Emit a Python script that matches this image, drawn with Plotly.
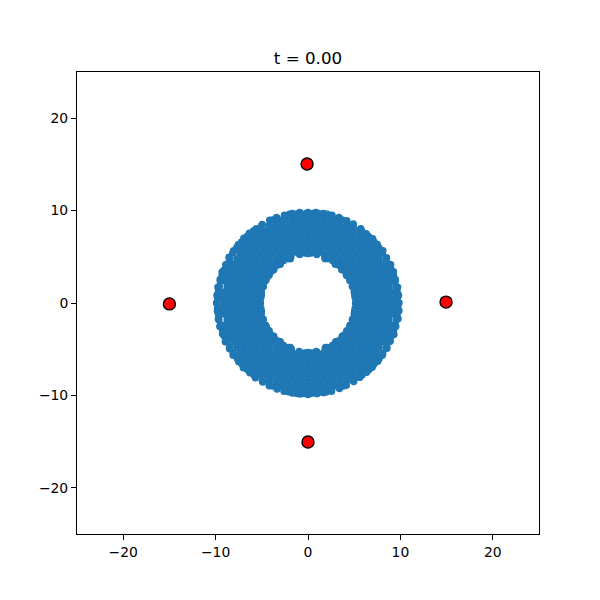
import plotly.graph_objects as go

# Particle ring: one x list per horizontal level
ring_levels = [9.7, 9.6, 9.0, 8.4, 7.8, 7.2, 6.6, 6.0, 5.4, 4.8, 4.2, 3.6, 3.0, 2.4, 1.8, 1.2, 0.6, 0.0,
               -0.6, -1.2, -1.8, -2.4, -3.0, -3.6, -4.2, -4.8, -5.4, -6.0, -6.6, -7.2, -7.8, -8.4, -9.0, -9.6, -9.8]
ring_rows = [
 [-1.0, -0.2, 0.5, 1.1],
 [-2.0, -1.4, -0.7, 0, 0.7, 1.4, 2.1],
 [-3.8, -3.15, -2.45, -1.75, -1.05, -0.35, 0.35, 1.05, 1.75, 2.45, 3.15, 3.7],
 [-5.0, -4.2, -3.5, -2.8, -2.1, -1.4, -0.7, 0, 0.7, 1.4, 2.1, 2.8, 3.5, 4.2, 4.9],
 [-5.9, -5.25, -4.55, -3.85, -3.15, -2.45, -1.75, -1.05, -0.35, 0.35, 1.05, 1.75, 2.45, 3.15, 3.85, 4.55, 5.25, 5.8],
 [-6.6, -6.3, -5.6, -4.9, -4.2, -3.5, -2.8, -2.1, -1.4, -0.7, 0, 0.7, 1.4, 2.1, 2.8, 3.5, 4.2, 4.9, 5.6, 6.3, 6.55],
 [-7.2, -6.65, -5.95, -5.25, -4.55, -3.85, -3.15, -2.45, -1.75, -1.05, -0.35, 0.35, 1.05, 1.75, 2.45, 3.15, 3.85, 4.55, 5.25, 5.95, 6.65, 7.15],
 [-7.7, -7, -6.3, -5.6, -4.9, -4.2, -3.5, -2.8, -2.1, -1.4, -0.7, 0, 0.7, 1.4, 2.1, 2.8, 3.5, 4.2, 4.9, 5.6, 6.3, 7, 7.65],
 [-8.15, -7.35, -6.65, -5.95, -5.25, -4.55, -3.85, -3.15, -2.45, -1.75, -1.05, -0.35, 0.35, 1.05, 1.75, 2.45, 3.15, 3.85, 4.55, 5.25, 5.95, 6.65, 7.35, 8.05],
 [-8.5, -7.7, -7, -6.3, -5.6, -4.9, -4.2, -3.5, -2.8, -2.1, -1.9, 1.85, 2.1, 2.8, 3.5, 4.2, 4.9, 5.6, 6.3, 7, 7.7, 8.45],
 [-8.75, -8.05, -7.35, -6.65, -5.95, -5.25, -4.55, -3.85, -3.15, -3.0, 2.95, 3.15, 3.85, 4.55, 5.25, 5.95, 6.65, 7.35, 8.05, 8.8],
 [-9.05, -8.4, -7.7, -7, -6.3, -5.6, -4.9, -4.2, -3.7, 3.65, 4.2, 4.9, 5.6, 6.3, 7, 7.7, 8.4, 9.0],
 [-9.3, -8.75, -8.05, -7.35, -6.65, -5.95, -5.25, -4.55, -4.2, 4.15, 4.55, 5.25, 5.95, 6.65, 7.35, 8.05, 8.75, 9.25],
 [-9.5, -9.1, -8.4, -7.7, -7, -6.3, -5.6, -4.9, -4.6, 4.55, 4.9, 5.6, 6.3, 7, 7.7, 8.4, 9.1, 9.45],
 [-9.6, -8.75, -8.05, -7.35, -6.65, -5.95, -5.25, -4.85, 4.8, 5.25, 5.95, 6.65, 7.35, 8.05, 8.75, 9.5],
 [-9.7, -9.1, -8.4, -7.7, -7, -6.3, -5.6, -5.05, 5.0, 5.6, 6.3, 7, 7.7, 8.4, 9.1, 9.65],
 [-9.8, -9.45, -8.75, -8.05, -7.35, -6.65, -5.95, -5.25, -5.1, 5.1, 5.25, 5.95, 6.65, 7.35, 8.05, 8.75, 9.45, 9.7],
 [-9.85, -9.1, -8.4, -7.7, -7, -6.3, -5.6, -5.15, 5.15, 5.6, 6.3, 7, 7.7, 8.4, 9.1, 9.75],
 [-9.8, -9.45, -8.75, -8.05, -7.35, -6.65, -5.95, -5.25, -5.1, 5.1, 5.25, 5.95, 6.65, 7.35, 8.05, 8.75, 9.45, 9.75],
 [-9.7, -9.1, -8.4, -7.7, -7, -6.3, -5.6, -5.05, 5.0, 5.6, 6.3, 7, 7.7, 8.4, 9.1, 9.65],
 [-9.65, -8.75, -8.05, -7.35, -6.65, -5.95, -5.25, -4.85, 4.8, 5.25, 5.95, 6.65, 7.35, 8.05, 8.75, 9.55],
 [-9.45, -9.1, -8.4, -7.7, -7, -6.3, -5.6, -4.9, -4.6, 4.55, 4.9, 5.6, 6.3, 7, 7.7, 8.4, 9.1, 9.45],
 [-9.25, -8.75, -8.05, -7.35, -6.65, -5.95, -5.25, -4.55, -4.2, 4.2, 4.55, 5.25, 5.95, 6.65, 7.35, 8.05, 8.75, 9.25],
 [-9.05, -8.4, -7.7, -7, -6.3, -5.6, -4.9, -4.2, -3.7, 3.7, 4.2, 4.9, 5.6, 6.3, 7, 7.7, 8.4, 9.0],
 [-8.8, -8.05, -7.35, -6.65, -5.95, -5.25, -4.55, -3.85, -3.15, -3.0, 3.0, 3.15, 3.85, 4.55, 5.25, 5.95, 6.65, 7.35, 8.05, 8.75],
 [-8.45, -7.7, -7, -6.3, -5.6, -4.9, -4.2, -3.5, -2.8, -2.1, -1.9, 1.9, 2.1, 2.8, 3.5, 4.2, 4.9, 5.6, 6.3, 7, 7.7, 8.5],
 [-8.1, -7.35, -6.65, -5.95, -5.25, -4.55, -3.85, -3.15, -2.45, -1.75, -1.05, -0.35, 0.35, 1.05, 1.75, 2.45, 3.15, 3.85, 4.55, 5.25, 5.95, 6.65, 7.35, 8.1],
 [-7.65, -7, -6.3, -5.6, -4.9, -4.2, -3.5, -2.8, -2.1, -1.4, -0.7, 0, 0.7, 1.4, 2.1, 2.8, 3.5, 4.2, 4.9, 5.6, 6.3, 7, 7.7],
 [-7.15, -6.65, -5.95, -5.25, -4.55, -3.85, -3.15, -2.45, -1.75, -1.05, -0.35, 0.35, 1.05, 1.75, 2.45, 3.15, 3.85, 4.55, 5.25, 5.95, 6.65, 7.15],
 [-6.55, -6.3, -5.6, -4.9, -4.2, -3.5, -2.8, -2.1, -1.4, -0.7, 0, 0.7, 1.4, 2.1, 2.8, 3.5, 4.2, 4.9, 5.6, 6.3, 6.6],
 [-5.85, -5.25, -4.55, -3.85, -3.15, -2.45, -1.75, -1.05, -0.35, 0.35, 1.05, 1.75, 2.45, 3.15, 3.85, 4.55, 5.25, 5.85],
 [-4.95, -4.2, -3.5, -2.8, -2.1, -1.4, -0.7, 0, 0.7, 1.4, 2.1, 2.8, 3.5, 4.2, 4.9],
 [-3.75, -3.15, -2.45, -1.75, -1.05, -0.35, 0.35, 1.05, 1.75, 2.45, 3.15, 3.75],
 [-2.1, -1.4, -0.7, 0, 0.7, 1.4, 2.0],
 [-1.2, -0.4, 0.3, 1.0],
]

# Particles along the rim of the ring
outer_x = [9.85, 9.8, 9.7, 9.45, 9.25, 8.95, 8.5, 8.1, 7.5, 7.0, 6.3, 5.7, 4.9, 4.2, 3.35, 2.6, 1.7, 0.85,
           0.0, -0.9, -1.7, -2.55, -3.4, -4.15, -4.95, -5.6, -6.35, -6.95, -7.55, -8.05, -8.55, -8.9, -9.3, -9.5, -9.75, -9.85,
           -9.9, -9.8, -9.7, -9.55, -9.25, -8.95, -8.5, -8.1, -7.5, -7.0, -6.3, -5.7, -4.9, -4.2, -3.35, -2.6, -1.7, -0.85,
           0.0, 0.9, 1.7, 2.55, 3.4, 4.15, 4.95, 5.6, 6.35, 6.95, 7.55, 8.05, 8.55, 8.9, 9.3, 9.5, 9.75, 9.85]
outer_y = [0.0, 0.85, 1.7, 2.55, 3.4, 4.15, 4.9, 5.65, 6.35, 6.95, 7.5, 8.05, 8.55, 8.9, 9.25, 9.5, 9.7, 9.8,
           9.8, 9.8, 9.7, 9.5, 9.25, 8.95, 8.5, 8.05, 7.55, 7.0, 6.3, 5.65, 4.95, 4.15, 3.35, 2.55, 1.7, 0.85,
           0.0, -0.9, -1.7, -2.55, -3.35, -4.2, -4.95, -5.65, -6.35, -7.0, -7.55, -8.1, -8.55, -8.95, -9.3, -9.55, -9.75, -9.85,
           -9.9, -9.8, -9.7, -9.55, -9.25, -8.9, -8.5, -8.05, -7.5, -6.95, -6.3, -5.65, -4.9, -4.15, -3.4, -2.55, -1.7, -0.85]
inner_x = [5.15, 5.05, 4.85, 4.5, 4.05, 3.4, 2.65, 1.8, 0.95, 0.0, -0.9, -1.85, -2.65, -3.4, -4.0, -4.5, -4.85, -5.05,
           -5.15, -5.05, -4.85, -4.5, -4.05, -3.4, -2.65, -1.8, -0.95, 0.0, 0.9, 1.85, 2.65, 3.4, 4.0, 4.5, 4.85, 5.05]
inner_y = [0.0, 0.9, 1.75, 2.6, 3.4, 4.05, 4.6, 5.0, 5.25, 5.35, 5.25, 5.0, 4.6, 4.05, 3.4, 2.6, 1.75, 0.9,
           0.0, -0.9, -1.75, -2.6, -3.4, -4.05, -4.6, -5.0, -5.25, -5.35, -5.25, -5.0, -4.6, -4.05, -3.4, -2.6, -1.75, -0.9]

# Four red bodies
body_x = [14.94, -0.1, -15.0, 0.0]
body_y = [0.1, 15.05, -0.1, -15.05]

tick_values = [-20, -10, 0, 10, 20]
tick_labels = ["\u221220", "\u221210", "0", "10", "20"]

ring_x = [x for row in ring_rows for x in row] + outer_x + inner_x
ring_y = [lv for lv, row in zip(ring_levels, ring_rows) for _ in row] + outer_y + inner_y

fig = go.Figure()
fig.add_trace(go.Scatter(x=ring_x, y=ring_y, mode="markers",
                         marker=dict(color="#1f77b4", size=7.4, line=dict(width=0))))
fig.add_trace(go.Scatter(x=body_x, y=body_y, mode="markers",
                         marker=dict(color="#ff0000", size=12, line=dict(color="black", width=1.4))))

axis = dict(range=[-25, 25], tickmode="array", tickvals=tick_values, ticktext=tick_labels,
            ticks="outside", ticklen=5, tickwidth=1, tickcolor="black",
            showline=True, linecolor="black", linewidth=1, mirror=True,
            showgrid=False, zeroline=False,
            tickfont=dict(family="DejaVu Sans", size=13.9, color="black"))
fig.update_layout(
    width=600, height=600, autosize=False, showlegend=False,
    margin=dict(l=69, r=69, t=64, b=74, pad=0),
    paper_bgcolor="white", plot_bgcolor="white",
    xaxis=axis, yaxis=dict(axis),
    title=dict(text="t = 0.00", x=0.5, xanchor="center", y=1 - 50 / 600, yanchor="middle",
               font=dict(family="DejaVu Sans", size=16.7, color="black")),
)
fig.write_html("out.html")
